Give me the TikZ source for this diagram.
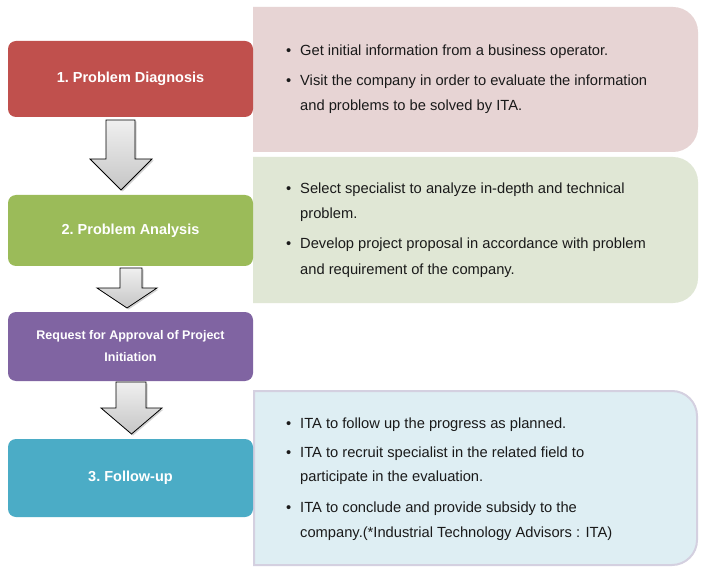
\documentclass[tikz,border=0pt]{standalone}
\usepackage{fontspec}
\setmainfont{Liberation Sans}
\usetikzlibrary{shadows}
\definecolor{cRed}{HTML}{C0504D}
\definecolor{cGreen}{HTML}{9BBB59}
\definecolor{cPurple}{HTML}{8064A2}
\definecolor{cTeal}{HTML}{4BACC6}
\definecolor{pPink}{HTML}{E7D4D4}
\definecolor{pGreen}{HTML}{E0E7D5}
\definecolor{pBlue}{HTML}{DEEEF3}
\definecolor{pBorder}{HTML}{D4D0E0}
\definecolor{txt}{HTML}{1A1A1A}
\tikzset{
  stepbox/.style={rounded corners=8pt, inner sep=0pt, text=white,
     font=\bfseries\fontsize{14.5}{22}\selectfont, align=center},
  bul/.style={anchor=base west, inner sep=0pt, text=txt,
     font=\fontsize{14.7}{24.5}\selectfont},
  downarrow/.style={draw=black, line width=0.8pt, top color=gray!12, bottom color=gray!45,
     drop shadow={shadow xshift=1.5pt, shadow yshift=-1.5pt, opacity=0.35}},
}
\newcommand{\rbox}[5]{% x1,y1,x2,y2,style
  \path[#5] (#1,#2) -- ({#3-25},#2) .. controls ({#3-11.2},#2) and (#3,{#2+11.2}) .. (#3,{#2+25})
    -- (#3,{#4-25}) .. controls (#3,{#4-11.2}) and ({#3-11.2},#4) .. ({#3-25},#4) -- (#1,#4) -- cycle;}
\begin{document}
\begin{tikzpicture}[x=1pt,y=-1pt]
\useasboundingbox (0,0) rectangle (707,580);
\fill[white] (0,0) rectangle (707,580);
% right panels
\rbox{253}{7}{698}{152}{fill=pPink}
\rbox{253}{157}{698}{303}{fill=pGreen}
\rbox{254}{391}{697}{565}{fill=pBlue, draw=pBorder, line width=2pt}
% left step boxes
\node[stepbox, fill=cRed, minimum width=245pt, minimum height=76pt] (s1) at (130.5,79) {1.~Problem Diagnosis};
\node[stepbox, fill=cGreen, minimum width=245pt, minimum height=71pt] (s2) at (130.5,230.5) {2.~Problem Analysis};
\node[stepbox, fill=cPurple, minimum width=245pt, minimum height=69pt, font=\bfseries\fontsize{12.5}{22}\selectfont] (s3) at (130.5,346.5) {Request for Approval of Project\\Initiation};
\node[stepbox, fill=cTeal, minimum width=245pt, minimum height=78pt] (s4) at (130.5,478) {3.~Follow-up};
% arrows
\path[downarrow] (106,120) -- (135,120) -- (135,159) -- (152,159) -- (121,190) -- (90,159) -- (106,159) -- cycle;
\path[downarrow] (120,268) -- (142,268) -- (142,288) -- (157,288) -- (127,308) -- (97,288) -- (120,288) -- cycle;
\path[downarrow] (116,382) -- (146,382) -- (146,408) -- (162,408) -- (131.5,434) -- (101,408) -- (116,408) -- cycle;
% panel 1 text
\node[bul] (b1a) at (286,55.5) {•};
\node[bul] (t1a) at (300,55.5) {Get initial information from a business operator.};
\node[bul] (b1b) at (286,86) {•};
\node[bul] (t1b) at (300,86) {Visit the company in order to evaluate the information};
\node[bul] (t1c) at (300,110.5) {and problems to be solved by ITA.};
% panel 2 text
\node[bul] (b2a) at (286,194) {•};
\node[bul] (t2a) at (300,194) {Select specialist to analyze in-depth and technical};
\node[bul] (t2b) at (300,219) {problem.};
\node[bul] (b2b) at (286,249) {•};
\node[bul] (t2c) at (300,249) {Develop project proposal in accordance with problem};
\node[bul] (t2d) at (300,274) {and requirement of the company.};
% panel 3 text
\node[bul] (b3a) at (286,428) {•};
\node[bul] (t3a) at (300,428) {ITA to follow up the progress as planned.};
\node[bul] (b3b) at (286,457) {•};
\node[bul] (t3b) at (300,457) {ITA to recruit specialist in the related field to};
\node[bul] (t3c) at (300,481.5) {participate in the evaluation.};
\node[bul] (b3c) at (286,512.5) {•};
\node[bul] (t3d) at (300,512.5) {ITA to conclude and provide subsidy to the};
\node[bul] (t3e) at (300,537) {company.(*Industrial Technology Advisors : ITA)};
\end{tikzpicture}
\end{document}
